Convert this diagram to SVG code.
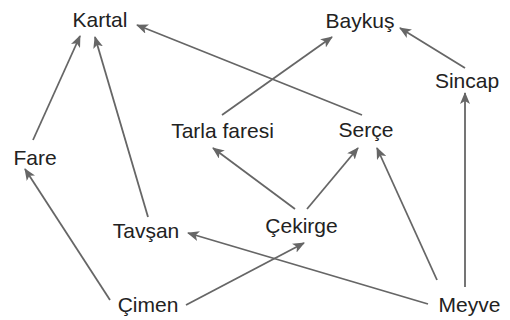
<svg xmlns="http://www.w3.org/2000/svg" width="510" height="320" viewBox="0 0 510 320">
  <defs>
    <style>
      .lbl { font-family: "Liberation Sans", Arial, sans-serif; font-size: 21px; fill: #222; text-anchor: middle; }
      .edge { stroke: #666; stroke-width: 1.8; fill: none; marker-end: url(#arrow); }
    </style>
    <marker id="arrow" viewBox="0 0 12 10" refX="11" refY="5" markerWidth="12" markerHeight="10" markerUnits="userSpaceOnUse" orient="auto">
      <path d="M0,0 L12,5 L0,10 L3,5 z" fill="#666"/>
    </marker>
  </defs>
  <rect width="510" height="320" fill="#fff"/>

  <!-- connectors: prey to predator -->
  <g id="edges">
    <line class="edge" x1="33" y1="140" x2="80" y2="36"/>
    <line class="edge" x1="148" y1="217" x2="95" y2="37"/>
    <line class="edge" x1="362" y1="115" x2="137" y2="25"/>
    <line class="edge" x1="222" y1="115" x2="332" y2="37"/>
    <line class="edge" x1="465" y1="68" x2="400" y2="28"/>
    <line class="edge" x1="465" y1="287" x2="465" y2="93"/>
    <line class="edge" x1="437" y1="280" x2="377" y2="148"/>
    <line class="edge" x1="428" y1="304" x2="188" y2="233"/>
    <line class="edge" x1="295" y1="209" x2="213" y2="148"/>
    <line class="edge" x1="307" y1="209" x2="358" y2="148"/>
    <line class="edge" x1="186" y1="305" x2="304" y2="243"/>
    <line class="edge" x1="110" y1="300" x2="25" y2="169"/>
  </g>

  <g id="kartal"><text class="lbl" x="100" y="27">Kartal</text></g>
  <g id="baykus"><text class="lbl" x="360" y="28">Baykuş</text></g>
  <g id="sincap"><text class="lbl" x="467" y="88">Sincap</text></g>
  <g id="tarla-faresi"><text class="lbl" x="222.5" y="138">Tarla faresi</text></g>
  <g id="serce"><text class="lbl" x="366" y="137">Serçe</text></g>
  <g id="fare"><text class="lbl" x="35" y="165">Fare</text></g>
  <g id="tavsan"><text class="lbl" x="146" y="238">Tavşan</text></g>
  <g id="cekirge"><text class="lbl" x="301.5" y="233">Çekirge</text></g>
  <g id="cimen"><text class="lbl" x="148" y="311.5">Çimen</text></g>
  <g id="meyve"><text class="lbl" x="469.5" y="311.5">Meyve</text></g>
</svg>
